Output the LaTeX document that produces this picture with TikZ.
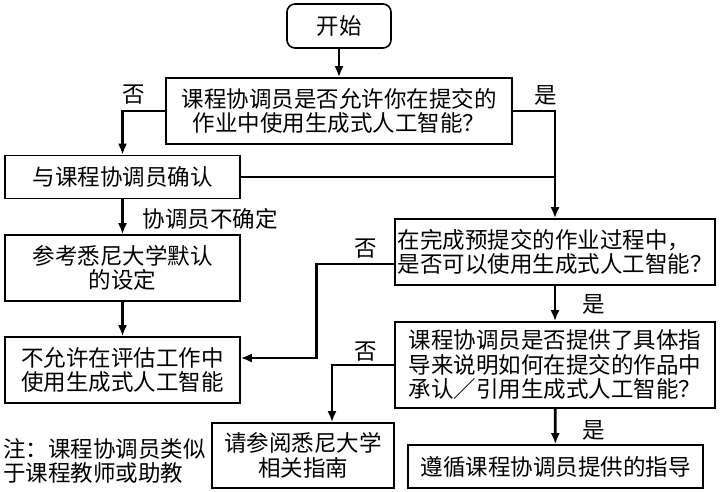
\documentclass[tikz,border=0pt]{standalone}
\usepackage{fontspec}
\setmainfont{Noto Sans CJK SC}
\usetikzlibrary{arrows.meta, positioning, calc}
\tikzstyle{process} = [rectangle, draw=black, line width=1.6pt, align=center, inner sep=2pt, font=\fontsize{22.5}{24.5}\selectfont]
\tikzstyle{startstop} = [process, rounded corners=8pt]
\tikzstyle{answer} = [inner sep=0pt, font=\fontsize{22.5}{24.5}\selectfont]
\tikzstyle{arrow} = [line width=2.8pt,->,>={Latex[length=11pt,width=9pt]}]
\tikzstyle{link} = [line width=1.8pt]

\begin{document}
\begin{tikzpicture}[x=1pt, y=-1pt]
\useasboundingbox (0,0) rectangle (722,491);

\node (start) [startstop, minimum width=104pt, minimum height=44pt] at (339,26) {开始};
\node (askuse) [process, minimum width=346pt, minimum height=66pt] at (339,111) {课程协调员是否允许你在提交的\\作业中使用生成式人工智能？};
\node (confirm) [process, minimum width=235pt, minimum height=43pt] at (122.5,177) {与课程协调员确认};
\node (default) [process, minimum width=235pt, minimum height=66pt] at (122.5,268) {参考悉尼大学默认\\的设定};
\node (notallow) [process, minimum width=235pt, minimum height=66pt] at (122.5,370) {不允许在评估工作中\\使用生成式人工智能};
\node (askpre) [process, align=left, minimum width=320pt, minimum height=66pt] at (555,252) {在完成预提交的作业过程中，\\是否可以使用生成式人工智能？};
\node (askcite) [process, minimum width=320pt, minimum height=86pt] at (555,365) {课程协调员是否提供了具体指\\导来说明如何在提交的作品中\\承认／引用生成式人工智能？};
\node (guide) [process, minimum width=182pt, minimum height=65pt] at (303,455.5) {请参阅悉尼大学\\相关指南};
\node (follow) [process, minimum width=295pt, minimum height=43pt] at (555.5,466.5) {遵循课程协调员提供的指导};
\node (note) [answer, anchor=west, align=left] at (3,461) {注：课程协调员类似\\于课程教师或助教};

% Arrows
\draw [arrow] (start) -- (askuse);
\draw [arrow] (askuse.west) -| (confirm.north);
\draw [arrow] (askuse.east) -| (askpre.north);
\draw [link] (confirm.east) -- (confirm.east -| askpre.north);
\draw [arrow] (confirm) -- (default);
\draw [arrow] (default) -- (notallow);
\draw [arrow] ([yshift=-12pt]askpre.west) -- ++(-78,0) |- ([yshift=12pt]notallow.east);
\draw [arrow] (askpre) -- (askcite);
\draw [arrow] (askcite.west) -| ([xshift=29pt]guide.north);
\draw [arrow] (askcite) -- (follow);

% Labels
\node (no1) [answer] at (134,95) {否};
\node (yes1) [answer] at (546,95) {是};
\node (unsure) [answer] at (210,219) {协调员不确定};
\node (no2) [answer] at (366,249) {否};
\node (yes2) [answer] at (594,304) {是};
\node (no3) [answer] at (366,352) {否};
\node (yes3) [answer] at (594,430) {是};

\end{tikzpicture}
\end{document}
